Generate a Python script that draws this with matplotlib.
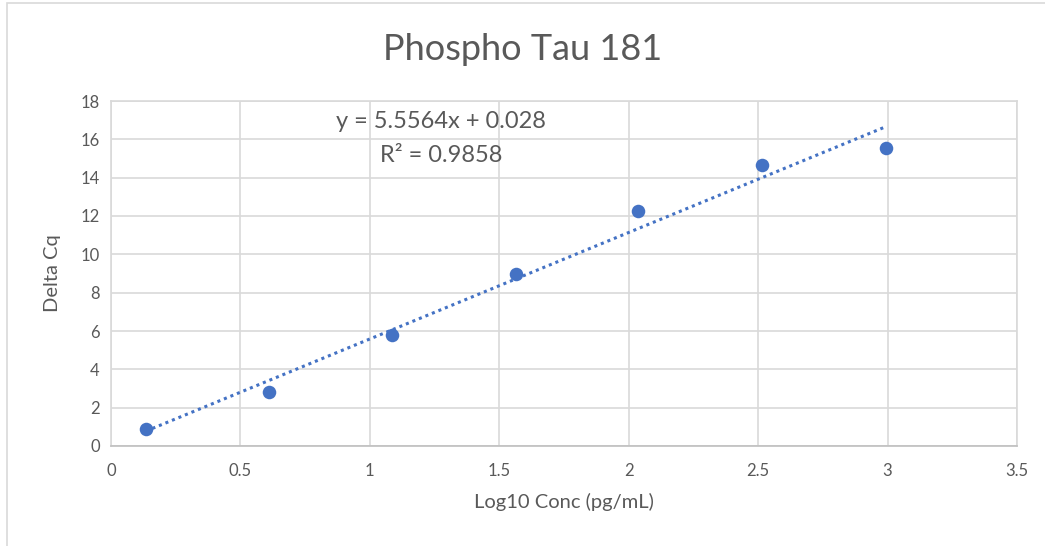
import matplotlib.pyplot as plt
import numpy as np

# Dane
log_conc = [0.135, 0.610, 1.085, 1.564, 2.035, 2.514, 2.993]
delta_cq = [0.89, 2.82, 5.79, 8.97, 12.26, 14.66, 15.55]
slope = 5.5564
intercept = 0.028
r_squared = 0.9858

x_ticks = [0, 0.5, 1, 1.5, 2, 2.5, 3, 3.5]
y_ticks = [0, 2, 4, 6, 8, 10, 12, 14, 16, 18]

BLUE = "#4472C4"
GRID = "#D9D9D9"
TXT = "#595959"
FONT = ["Lato", "DejaVu Sans"]

fig = plt.figure(figsize=(10.45, 5.46), dpi=100)
fig.patch.set_facecolor("white")
ax = fig.add_axes([111 / 1045, 1 - 446 / 546, (1017 - 111) / 1045, (446 - 101) / 546])

# ramka obszaru wykresu
fig.add_artist(plt.Rectangle((7 / 1045, -0.02), 1.1, 1.015, transform=fig.transFigure,
                             fill=False, edgecolor="#D9D9D9", linewidth=1.2))

# linia trendu
xs = np.array([log_conc[0], log_conc[-1]])
ax.plot(xs, slope * xs + intercept, color=BLUE, linestyle=(0, (1, 1.3)), linewidth=2.2, zorder=2)
ax.scatter(log_conc, delta_cq, s=95, color=BLUE, zorder=3, linewidths=0)

ax.set_xlim(0, 3.5)
ax.set_ylim(0, 18)
ax.set_xticks(x_ticks)
ax.set_yticks(y_ticks)
ax.set_xticklabels([f"{t:g}" for t in x_ticks])
ax.grid(True, color=GRID, linewidth=1.2, zorder=0)
ax.set_axisbelow(True)
for side in ["top", "right", "left"]:
    ax.spines[side].set_color(GRID)
    ax.spines[side].set_linewidth(1.2)
ax.spines["bottom"].set_color("#BFBFBF")
ax.spines["bottom"].set_linewidth(1.2)
ax.tick_params(length=0, labelsize=12, labelcolor=TXT, pad=8)
ax.tick_params(axis="x", pad=12)
for lab in ax.get_xticklabels() + ax.get_yticklabels():
    lab.set_family(FONT)

ax.set_xlabel("Log10 Conc (pg/mL)", fontsize=14.5, color=TXT, family=FONT, labelpad=10)
ax.set_ylabel("Delta Cq", fontsize=14.5, color=TXT, family=FONT, labelpad=14)
fig.text(0.5, 1 - 50 / 546, "Phospho Tau 181", ha="center", va="center",
         fontsize=26, color=TXT, family=FONT)

ax.text(441 / 1045, 1 - 122 / 546, f"y = {slope}x + {intercept}", transform=fig.transFigure,
        ha="center", va="center", fontsize=17, color=TXT, family=FONT)
ax.text(441 / 1045, 1 - 155 / 546, f"R² = {r_squared}", transform=fig.transFigure,
        ha="center", va="center", fontsize=17, color=TXT, family=FONT)

plt.savefig("out.png", dpi=100)
plt.close()
